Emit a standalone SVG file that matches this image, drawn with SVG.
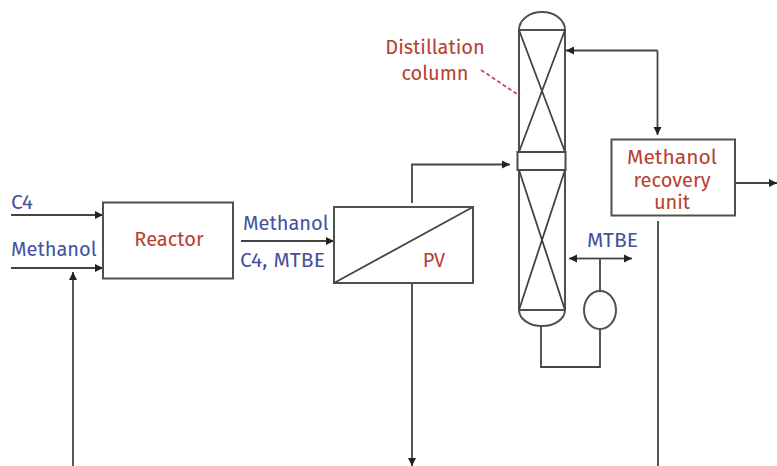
<svg xmlns="http://www.w3.org/2000/svg" width="777" height="466" viewBox="0 0 777 466">
<defs>
<marker id="ah" markerUnits="userSpaceOnUse" markerWidth="10" markerHeight="10" refX="8" refY="5" orient="auto-start-reverse"><path d="M0,1L8,5L0,9Z" fill="#222"/></marker>
</defs>
<style>
.s{fill:none;stroke:#505050;stroke-width:2}
.c{fill:none;stroke:#444;stroke-width:1.8}
.a{marker-end:url(#ah)}
text{font-family:"Fira Sans","Open Sans","Noto Sans","Liberation Sans",sans-serif;font-size:20px}
.r{fill:#b8402f}
.b{fill:#44519f}
.m{text-anchor:middle}
.w{font-size:21px}
</style>
<rect width="777" height="466" fill="#fff"/>
<g id="connectors">
<path class="c a" d="M11,215H103"/>
<path class="c a" d="M11,268H103"/>
<path class="c a" d="M73,466V272"/>
<path class="c a" d="M241,241H334"/>
<path class="c a" d="M412,203V164.500H510"/>
<path class="c a" d="M412,284V466"/>
<path class="c a" d="M657.500,50.500H566"/>
<path class="c a" d="M657.500,50.500V135"/>
<path class="c a" d="M735,183H777"/>
<path class="c" d="M658,221V466"/>
<path class="c a" d="M600,258.500H569"/>
<path class="c a" d="M600,258.500H632"/>
<path class="c" d="M600,258.500V292"/>
<path class="c" d="M600,329V367H541V326"/>
<path d="M481,70L520,96" fill="none" stroke="#c0505a" stroke-width="1.8" stroke-dasharray="4 2.500"/>
</g>
<g id="reactor"><rect class="s" x="103" y="202.500" width="130" height="76"/><text class="r m" x="169" y="246">Reactor</text></g>
<g id="pv"><rect class="s" x="334" y="207" width="139" height="76"/><path class="c" d="M334,283L473,207"/><text class="r m" x="434" y="267">PV</text></g>
<g id="column">
<path class="s" d="M519,30V310M565,30V310M519,30H565M519,310H565M519,30A23,18 0 0 1 565,30M519,310A23,16 0 0 0 565,310"/>
<path class="c" d="M519,30L565,152M565,30L519,152M519,170L565,310M565,170L519,310"/>
<rect x="517.500" y="152" width="48" height="18" fill="#fff" stroke="#4a4a4a" stroke-width="2"/>
</g>
<g id="reboiler"><ellipse class="s" cx="600" cy="310" rx="16" ry="19"/></g>
<g id="recovery"><rect class="s" x="611.500" y="139.500" width="123.500" height="76"/><text class="r m w" x="672" y="164">Methanol</text><text class="r m" x="672" y="187">recovery</text><text class="r m" x="672" y="209">unit</text></g>
<g id="labels">
<text class="b w" x="11" y="209">C4</text>
<text class="b" x="11" y="256">Methanol</text>
<text class="b" x="243" y="230">Methanol</text>
<text class="b w" x="240" y="267" textLength="85" lengthAdjust="spacing">C4, MTBE</text>
<text class="b w" x="587" y="247">MTBE</text>
<text class="r m" x="435" y="54">Distillation</text>
<text class="r m" x="435" y="80">column</text>
</g>
</svg>
